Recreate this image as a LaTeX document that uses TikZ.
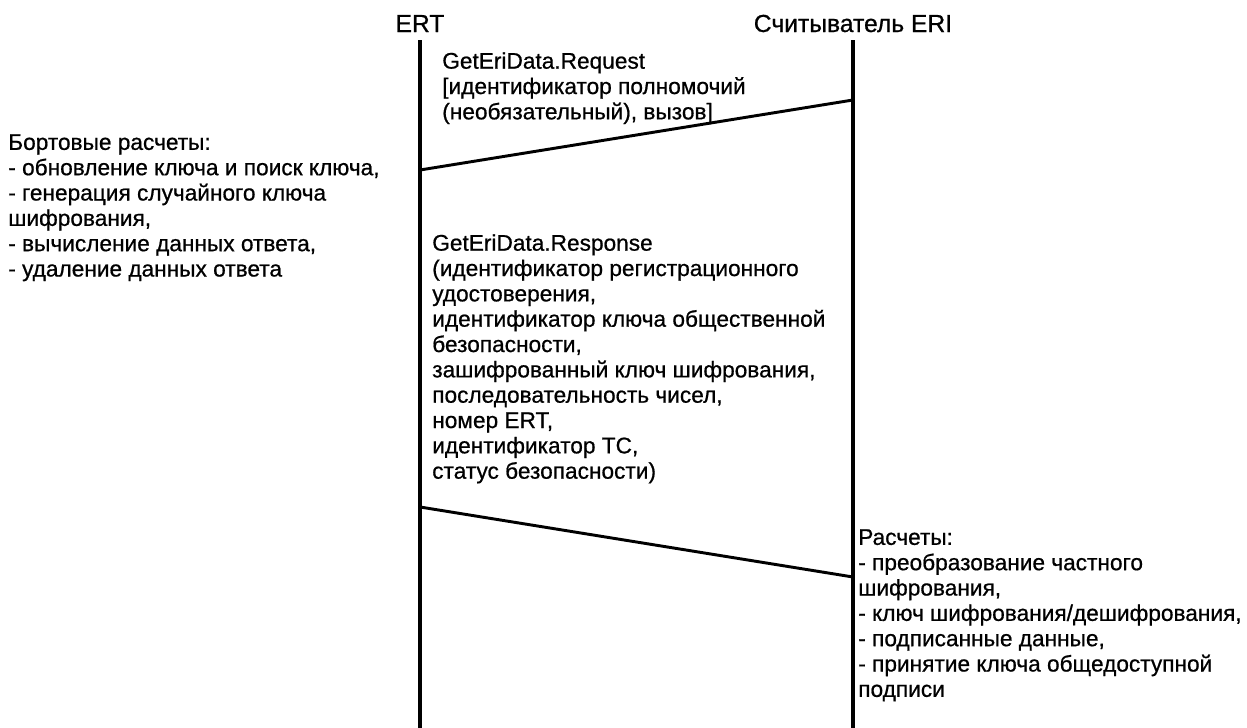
\documentclass[tikz,border=0pt]{standalone}
\usepackage{fontspec}
\setmainfont{Liberation Sans}[FakeBold=0.7]
\begin{document}
\begin{tikzpicture}[x=0.75pt,y=-0.75pt,
  lifeline/.style={line width=2.4pt},
  msg/.style={line width=2.2pt},
  head/.style={font=\fontsize{18.5}{20}\selectfont, anchor=base, inner sep=0pt},
  note/.style={font=\fontsize{17}{19}\selectfont, align=left, anchor=north west, inner sep=0pt}]
\useasboundingbox (0,0) rectangle (1247,728);

% participants
\node[head] (hE) at (420,32) {ERT};
\node[head] (hR) at (853,32) {Считыватель ERI};

% lifelines
\coordinate (eTop) at (420,40);
\coordinate (eBot) at (420,728);
\coordinate (rTop) at (853,40);
\coordinate (rBot) at (853,728);
\draw[lifeline] (eTop) -- (eBot);
\draw[lifeline] (rTop) -- (rBot);

% messages
\coordinate (reqR) at (853,100);
\coordinate (reqE) at (420,170);
\draw[msg] (reqR) -- (reqE);
\coordinate (resE) at (420,507);
\coordinate (resR) at (853,577);
\draw[msg] (resE) -- (resR);

% message labels
\node[note] (reqText) at (442,52) {GetEriData.Request\\
{[}идентификатор полномочий\\
(необязательный), вызов]};

\node[note] (resText) at (432,234) {GetEriData.Response\\
(идентификатор регистрационного\\
удостоверения,\\
идентификатор ключа общественной\\
безопасности,\\
зашифрованный ключ шифрования,\\
последовательность чисел,\\
номер ERT,\\
идентификатор ТС,\\
статус безопасности)};

% local computations
\node[note] (ertCalc) at (8,134) {Бортовые расчеты:\\
- обновление ключа и поиск ключа,\\
- генерация случайного ключа\\
шифрования,\\
- вычисление данных ответа,\\
- удаление данных ответа};

\node[note] (eriCalc) at (858,529) {Расчеты:\\
- преобразование частного\\
шифрования,\\
- ключ шифрования/дешифрования,\\
- подписанные данные,\\
- принятие ключа общедоступной\\
подписи};
\end{tikzpicture}
\end{document}
